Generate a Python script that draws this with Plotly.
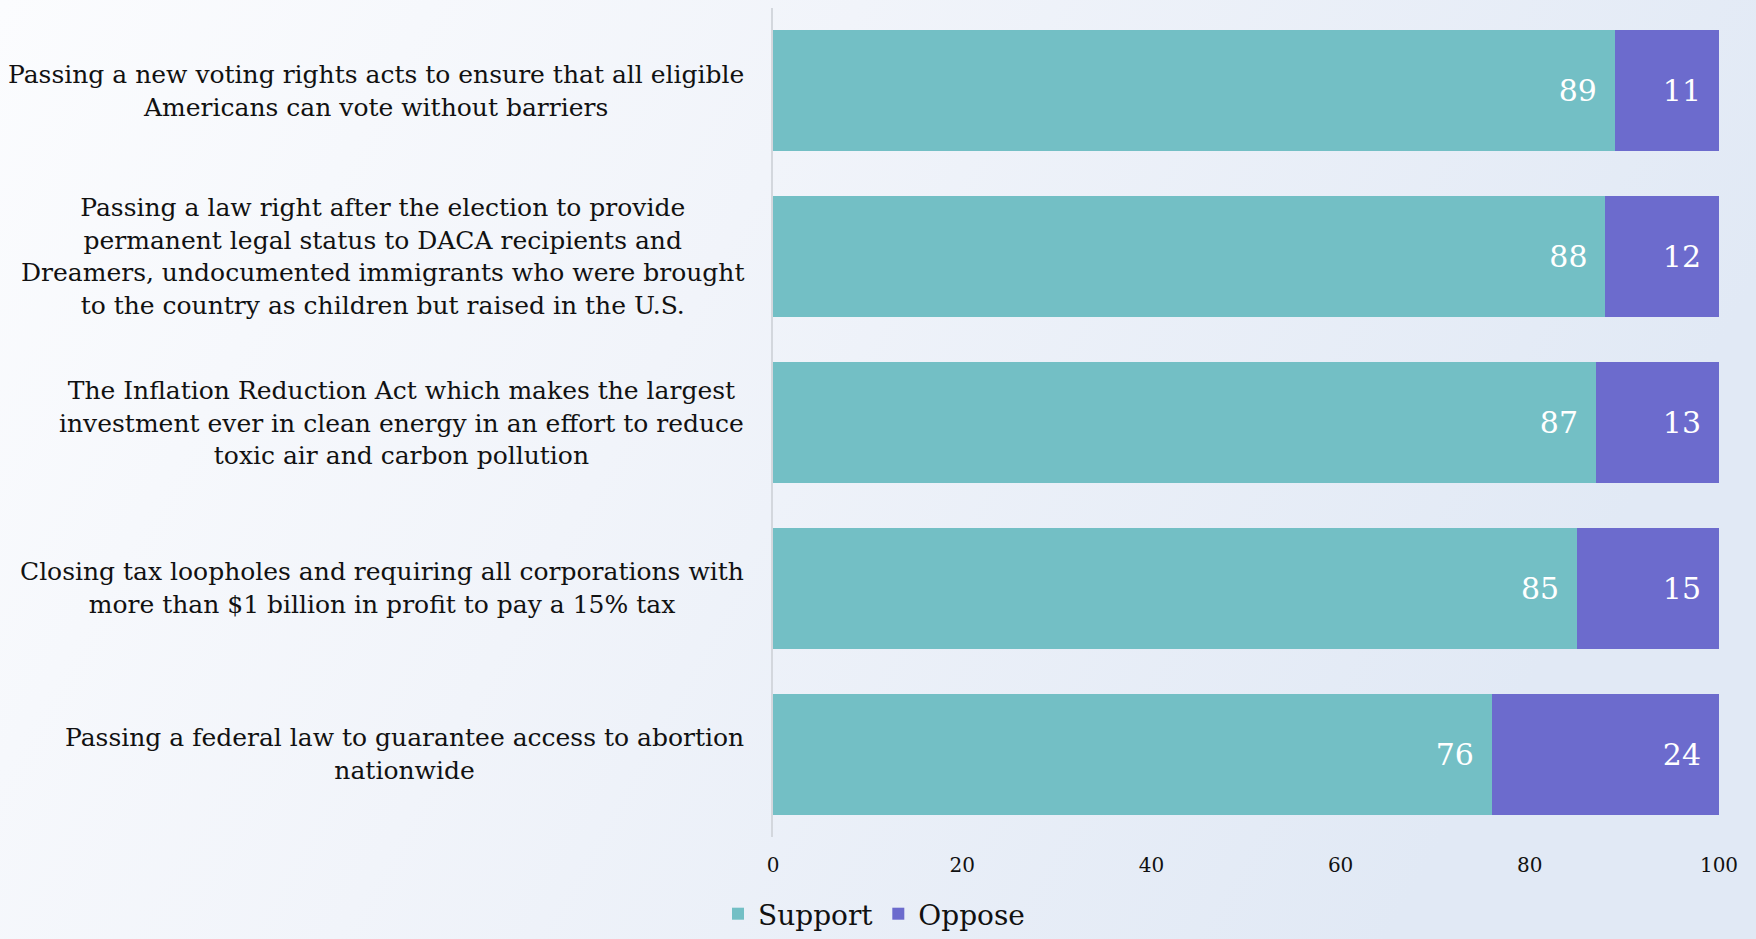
import base64
import plotly.graph_objects as go

categories = [
    "Passing a new voting rights acts to ensure that all eligible<br>Americans can vote without barriers",
    "Passing a law right after the election to provide<br>permanent legal status to DACA recipients and<br>Dreamers, undocumented immigrants who were brought<br>to the country as children but raised in the U.S.",
    "The Inflation Reduction Act which makes the largest<br>investment ever in clean energy in an effort to reduce<br>toxic air and carbon pollution",
    "Closing tax loopholes and requiring all corporations with<br>more than $1 billion in profit to pay a 15% tax",
    "Passing a federal law to guarantee access to abortion<br>nationwide",
]
support = [89, 88, 87, 85, 76]
oppose = [11, 12, 13, 15, 24]
x_ticks = [0, 20, 40, 60, 80, 100]

FONT = "DejaVu Serif"
W, H = 1756, 939
ML, MR, MT, MB = 773, 37, 8, 102
PW, PH = W - ML - MR, H - MT - MB

fig = go.Figure()
fig.add_trace(go.Bar(
    y=categories, x=support, name="Support", orientation="h",
    marker=dict(color="#73bfc5", line=dict(width=0)),
    texttemplate="%{x}\u2002", textposition="inside", insidetextanchor="end",
    textfont=dict(color="white", size=30, family=FONT),
))
fig.add_trace(go.Bar(
    y=categories, x=oppose, name="Oppose", orientation="h",
    marker=dict(color="#6c6bcd", line=dict(width=0)),
    texttemplate="%{x}\u2002", textposition="inside", insidetextanchor="end",
    textfont=dict(color="white", size=30, family=FONT),
))

for c in categories:
    fig.add_annotation(
        x=0, xref="paper", y=c, yref="y", text=c, showarrow=False,
        xanchor="right", xshift=-27, align="center",
        font=dict(size=25, family=FONT, color="#111111"),
    )

svg = (
    '<svg xmlns="http://www.w3.org/2000/svg" width="1756" height="939">'
    '<defs><linearGradient id="g" x1="0" y1="0" x2="1" y2="0.3">'
    '<stop offset="0" stop-color="#fbfcfe"/><stop offset="0.45" stop-color="#f1f4fa"/>'
    '<stop offset="1" stop-color="#e1e9f5"/></linearGradient></defs>'
    '<rect width="1756" height="939" fill="url(#g)"/></svg>'
)
src = "data:image/svg+xml;base64," + base64.b64encode(svg.encode()).decode()
fig.add_layout_image(dict(
    source=src, xref="paper", yref="paper",
    x=-ML / PW, y=1 + MT / PH, sizex=W / PW, sizey=H / PH,
    xanchor="left", yanchor="top", sizing="stretch", layer="below",
))

fig.update_layout(
    width=W, height=H,
    margin=dict(l=ML, r=MR, t=MT, b=MB, pad=0),
    barmode="stack", bargap=0.27,
    paper_bgcolor="#f6f8fc", plot_bgcolor="rgba(0,0,0,0)",
    font=dict(family=FONT, color="#111111"),
    xaxis=dict(range=[0, 100], tickvals=x_ticks, showgrid=False, zeroline=False,
               showline=False, ticks="", ticklabelstandoff=14,
               tickfont=dict(size=20, family=FONT, color="#111111")),
    yaxis=dict(autorange="reversed", showticklabels=False, showgrid=False,
               zeroline=False, showline=True, linecolor="#d3d7dd", linewidth=2, ticks=""),
    legend=dict(orientation="h", xref="container", yref="container",
                x=718 / W, xanchor="left", y=-0.005, yanchor="bottom",
                traceorder="normal",
                font=dict(size=28, family=FONT, color="#111111"),
                bgcolor="rgba(0,0,0,0)", itemwidth=30, tracegroupgap=0),
    showlegend=True,
)

fig.write_html(
    "out.html",
    config={"displayModeBar": False},
    post_script="document.body.style.margin='0';document.body.style.overflow='hidden';",
)
